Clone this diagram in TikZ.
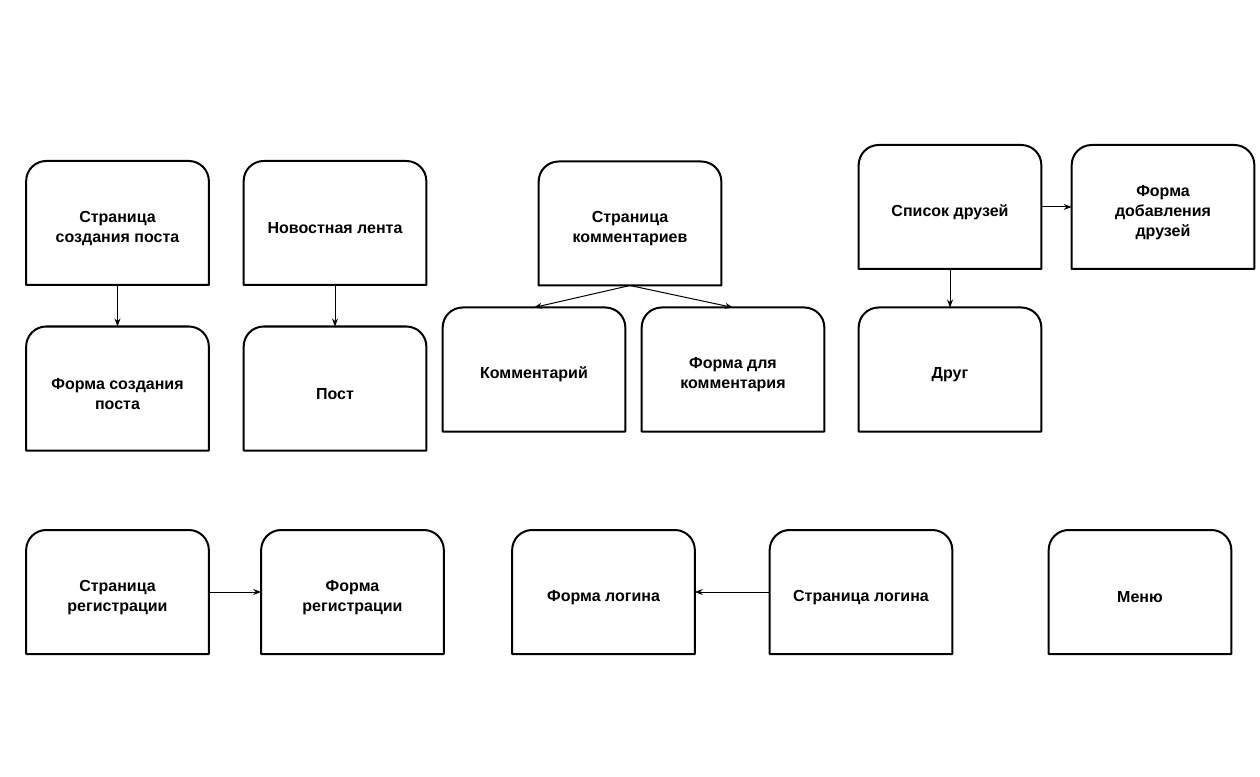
\documentclass[tikz,border=0pt]{standalone}
\usepackage{fontspec}
\setmainfont{Liberation Sans}
\usetikzlibrary{arrows.meta}
\newcommand{\bxnode}[3]{%
  \node[bx] (#1) at (#2) {};
  \node[bxtext] (#1-t) at ([yshift=-3.9pt]#1.center) {#3};
  \draw[outline] (#1.south west) -- ([yshift=-15pt]#1.north west)
    arc[start angle=180,end angle=90,radius=15pt]
    -- ([xshift=-15pt]#1.north east)
    arc[start angle=90,end angle=0,radius=15pt]
    -- (#1.south east) -- cycle;}
\begin{document}
\begin{tikzpicture}[x=0.75pt,y=-0.75pt,
  bx/.style={minimum width=137pt,minimum height=93pt,inner sep=0pt,outer sep=0pt},
  bxtext/.style={inner sep=0pt,align=center,font=\bfseries\fontsize{12}{15}\selectfont},
  outline/.style={line width=1.5pt,line join=round},
  conn/.style={line width=0.75pt,-{Stealth[length=6pt,width=4.5pt]}}]
\useasboundingbox (0,0) rectangle (1260,777);
\bxnode{scp}{117.5,223}{Страница\\создания поста}
\bxnode{nl}{335,223}{Новостная лента}
\bxnode{fcp}{117.5,388.5}{Форма создания\\поста}
\bxnode{post}{335,388.5}{Пост}
\bxnode{sk}{630,223.5}{Страница\\комментариев}
\bxnode{kom}{534,369.5}{Комментарий}
\bxnode{fk}{733,369.5}{Форма для\\комментария}
\bxnode{sd}{950,207}{Список друзей}
\bxnode{fd}{1163,207}{Форма\\добавления\\друзей}
\bxnode{drug}{950,369.5}{Друг}
\bxnode{sr}{117.5,592}{Страница\\регистрации}
\bxnode{fr}{352.5,592}{Форма\\регистрации}
\bxnode{fl}{603.5,592}{Форма логина}
\bxnode{sl}{861,592}{Страница логина}
\bxnode{menu}{1140,592}{Меню}
\draw[conn] (scp.south) -- (fcp.north);
\draw[conn] (nl.south) -- (post.north);
\draw[conn] (sk.south) -- (kom.north);
\draw[conn] (sk.south) -- (fk.north);
\draw[conn] (sd.east) -- (fd.west);
\draw[conn] (sd.south) -- (drug.north);
\draw[conn] (sr.east) -- (fr.west);
\draw[conn] (sl.west) -- (fl.east);
\end{tikzpicture}
\end{document}
